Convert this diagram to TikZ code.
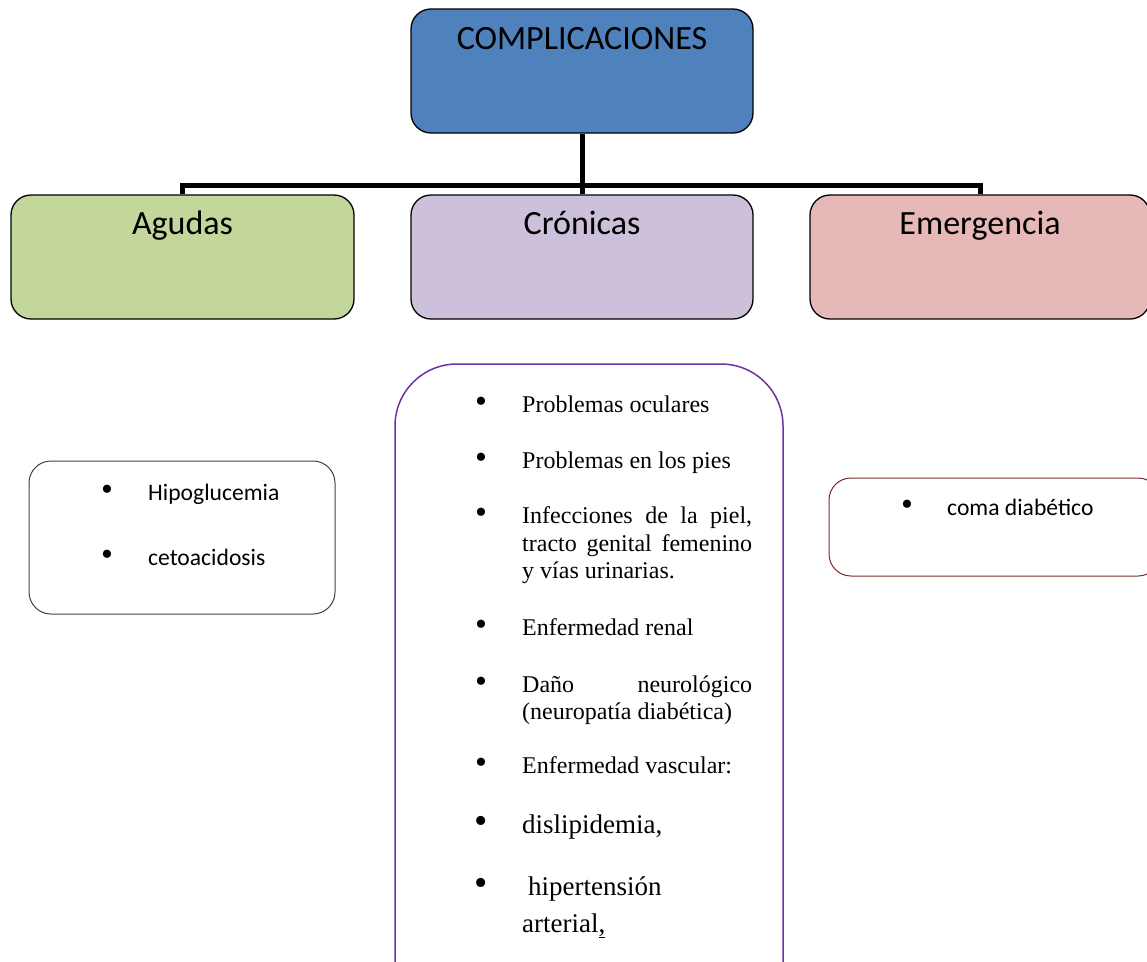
\documentclass[tikz,border=0pt]{standalone}
\usepackage{fontspec}
\setmainfont{Liberation Serif}
\newfontfamily\calib{Carlito}
\definecolor{topblue}{HTML}{4F81BD}
\definecolor{agreen}{HTML}{C3D69B}
\definecolor{cpurple}{HTML}{CCC0DA}
\definecolor{epink}{HTML}{E6B9B8}
\definecolor{pborder}{HTML}{7030A0}
\definecolor{rborder}{HTML}{772C2A}
\definecolor{gborder}{HTML}{404040}
\tikzset{
  catbox/.style={draw=black, line width=1.3pt, rounded corners=20pt, minimum height=124pt, inner sep=0pt},
  title/.style={font=\calib\fontsize{34}{40}\selectfont, inner sep=0pt, anchor=base},
  conn/.style={line width=5pt, black},
  listbox/.style={rounded corners=22pt, line width=1pt, inner sep=0pt},
  sitem/.style={font=\calib\fontsize{23.6}{28}\selectfont, anchor=base west, inner sep=0pt},
  titem/.style={font=\fontsize{24}{28}\selectfont, anchor=base west, inner sep=0pt},
  bitem/.style={font=\fontsize{27}{34}\selectfont, anchor=base west, inner sep=0pt},
  bul/.style={inner sep=0pt, font=\fontsize{34}{34}\selectfont},
  bigbul/.style={inner sep=0pt, font=\fontsize{38}{38}\selectfont}
}
\begin{document}
\begin{tikzpicture}[x=1pt,y=-1pt]
\useasboundingbox (0,0) rectangle (1147,961);
% top box
\node[catbox, fill=topblue, minimum width=342pt] (top) at (582,71) {};
\node[title] (toplbl) at (582,49) {COMPLICACIONES};
% category boxes
\node[catbox, fill=agreen, minimum width=343pt] (agudas) at (182.5,257) {};
\node[title] (agudaslbl) at (182.5,234) {Agudas};
\node[catbox, fill=cpurple, minimum width=342pt] (cronicas) at (582,257) {};
\node[title] (cronicaslbl) at (582,234) {Crónicas};
\node[catbox, fill=epink, minimum width=340pt] (emerg) at (980,257) {};
\node[title] (emerglbl) at (980,234) {Emergencia};
% connectors
\coordinate (hub) at (582,185);
\draw[conn] (top.south) -- (hub);
\draw[conn] (hub) -| (agudas.north);
\draw[conn] (hub) -- (cronicas.north);
\draw[conn] (hub) -| (emerg.north);
% left list
\draw[listbox, draw=gborder] (29,461) rectangle (335,614);
\node[bul] (b1) at (107,493) {\textbullet};
\node[sitem] (i1) at (148,500) {Hipoglucemia};
\node[bul] (b2) at (107,558) {\textbullet};
\node[sitem] (i2) at (148,565) {cetoacidosis};
% right list
\draw[listbox, draw=rborder] (829,478) rectangle (1160,576);
\node[bul] (b3) at (907,508) {\textbullet};
\node[sitem] (i3) at (947,515) {coma diabético};
% middle list
\draw[pborder, line width=1.5pt, rounded corners=62pt] (395,1010) -- (395,364) -- (783,364) -- (783,1010);
\foreach \y/\n in {412/c1,468/c2,523/c3,635/c4,692/c5,773/c6} {
  \node[bul] (\n b) at (481,\y-7) {\textbullet};
}
\node[titem] (c1) at (522,412) {Problemas oculares};
\node[titem] (c2) at (522,468) {Problemas en los pies};
\node[titem] (c3a) at (522,523) {\makebox[230pt][s]{Infecciones de la piel,}};
\node[titem] (c3b) at (522,551) {\makebox[230pt][s]{tracto genital femenino}};
\node[titem] (c3c) at (522,578) {y vías urinarias.};
\node[titem] (c4) at (522,635) {Enfermedad renal};
\node[titem] (c5a) at (522,692) {\makebox[230pt][s]{Daño neurológico}};
\node[titem] (c5b) at (522,719) {(neuropatía diabética)};
\node[titem] (c6) at (522,773) {Enfermedad vascular:};
\node[bigbul] (c7b) at (481,825) {\textbullet};
\node[bitem] (c7) at (522,833) {dislipidemia,};
\node[bigbul] (c8b) at (481,887) {\textbullet};
\node[bitem] (c8a) at (528,895) {hipertensión};
\node[bitem] (c8c) at (522,932) {arterial\underline{,}};
\end{tikzpicture}
\end{document}
